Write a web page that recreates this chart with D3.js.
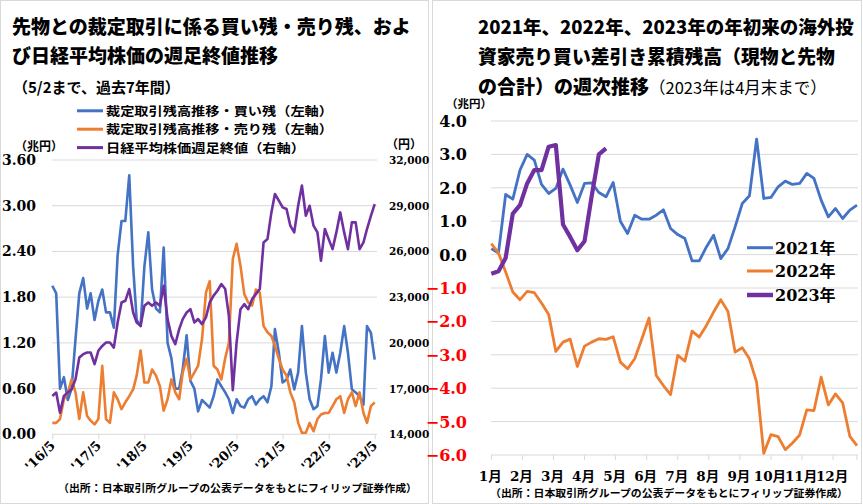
<!DOCTYPE html>
<html>
<head>
<meta charset="utf-8">
<script src="https://cdn.jsdelivr.net/npm/d3@7"></script>
<style>
  body { margin: 0; background: #fff; }
  svg { display: block; }
  text { font-family: "Noto Sans CJK JP", sans-serif; }
</style>
</head>
<body>
<script>
// 左: 月次（2016/5〜2023/5）
var months = [
  "2016-05","2016-06","2016-07","2016-08","2016-09","2016-10","2016-11","2016-12","2017-01","2017-02","2017-03","2017-04",
  "2017-05","2017-06","2017-07","2017-08","2017-09","2017-10","2017-11","2017-12","2018-01","2018-02","2018-03","2018-04",
  "2018-05","2018-06","2018-07","2018-08","2018-09","2018-10","2018-11","2018-12","2019-01","2019-02","2019-03","2019-04",
  "2019-05","2019-06","2019-07","2019-08","2019-09","2019-10","2019-11","2019-12","2020-01","2020-02","2020-03","2020-04",
  "2020-05","2020-06","2020-07","2020-08","2020-09","2020-10","2020-11","2020-12","2021-01","2021-02","2021-03","2021-04",
  "2021-05","2021-06","2021-07","2021-08","2021-09","2021-10","2021-11","2021-12","2022-01","2022-02","2022-03","2022-04",
  "2022-05","2022-06","2022-07","2022-08","2022-09","2022-10","2022-11","2022-12","2023-01","2023-02","2023-03","2023-04",
  "2023-05"
];
// 裁定取引残高・買い残（兆円）
var buyBalance = [
  1.95, 1.85, 0.60, 0.75, 0.45, 0.60, 1.25, 1.85, 2.05, 1.65, 1.85, 1.50,
  1.75, 1.90, 1.60, 1.60, 1.40, 2.35, 2.80, 2.80, 3.40, 2.20, 1.50, 1.42,
  2.20, 2.65, 1.90, 1.65, 1.60, 2.45, 1.20, 1.00, 0.60, 0.60, 0.85, 1.30,
  0.70, 0.60, 0.30, 0.45, 0.40, 0.35, 0.50, 0.72, 0.63, 0.55, 0.46, 0.28,
  0.46, 0.37, 0.35, 0.46, 0.50, 0.39, 0.46, 0.50, 0.42, 0.63, 1.38, 1.07,
  0.68, 0.72, 0.85, 0.59, 0.81, 1.42, 0.81, 0.46, 0.33, 0.37, 0.72, 1.29,
  0.81, 1.07, 0.81, 1.07, 1.42, 1.07, 0.59, 0.55, 0.50, 0.39, 1.42, 1.33,
  0.98
];
// 裁定取引残高・売り残（兆円）
var sellBalance = [
  0.15, 0.15, 0.20, 0.46, 0.55, 0.72, 0.55, 0.20, 0.55, 0.24, 0.18, 0.13,
  0.20, 0.90, 0.20, 0.15, 0.55, 0.46, 0.33, 0.42, 0.50, 0.59, 0.77, 1.10,
  0.68, 0.68, 0.85, 0.77, 0.63, 0.31, 0.46, 0.72, 0.55, 0.46, 0.81, 0.99,
  0.72, 0.81, 0.90, 1.25, 1.86, 2.01, 0.90, 0.85, 0.72, 1.00, 1.20, 2.30,
  2.50, 2.21, 1.84, 1.73, 1.69, 1.90, 1.86, 1.42, 1.34, 1.29, 1.16, 0.99,
  0.85, 0.77, 0.55, 0.42, 0.15, 0.02, 0.02, 0.15, 0.04, 0.20, 0.26, 0.28,
  0.28, 0.37, 0.46, 0.50, 0.28, 0.46, 0.55, 0.37, 0.55, 0.28, 0.15, 0.37,
  0.42
];
// 日経平均株価 週足終値（円）
var nikkei = [
  16520, 16740, 15420, 16520, 16740, 16960, 17610, 19040, 19260, 19370, 19370, 18600,
  19480, 19800, 20020, 20020, 19690, 21340, 22650, 22760, 23530, 21990, 21340, 21120,
  22430, 22650, 22430, 22650, 22430, 23750, 21560, 20460, 19910, 20900, 21560, 21990,
  22210, 21340, 21560, 21230, 21670, 22650, 23100, 23420, 23860, 23530, 21770, 16900,
  20020, 22210, 22540, 22210, 22870, 23200, 23530, 26590, 26810, 28560, 29770, 29330,
  28890, 28780, 27690, 27250, 29000, 30320, 28340, 29000, 27690, 27250, 25390, 27470,
  26810, 26150, 27250, 28560, 27250, 26150, 27910, 27910, 26150, 26590, 27470, 28340,
  29110
];
var leftTickDates = ["2016-05","2017-05","2018-05","2019-05","2020-05","2021-05","2022-05","2023-05"];
var leftTicks = [0, 0.6, 1.2, 1.8, 2.4, 3.0, 3.6];
var rightTicks = [14000, 17000, 20000, 23000, 26000, 29000, 32000];

// 右: 週次（海外投資家 売り買い差引き累積, 兆円）
var y2021 = [0.18, 0.05, 1.80, 1.66, 2.53, 3.00, 2.83, 2.10, 1.83, 1.98, 2.56, 2.08, 1.56,
  2.13, 2.15, 1.86, 1.73, 2.16, 1.00, 0.63, 1.18, 1.06, 1.06, 1.18, 1.34, 0.78,
  0.60, 0.48, -0.19, -0.19, 0.23, 0.58, -0.12, 0.18, 0.83, 1.53, 1.76, 3.46, 1.68,
  1.71, 2.03, 2.20, 2.10, 2.13, 2.43, 2.28, 1.63, 1.13, 1.38, 1.08, 1.33, 1.48];
var y2022 = [0.33, 0.05, -0.52, -1.12, -1.35, -1.10, -1.14, -1.45, -1.79, -2.90, -2.62, -2.53, -3.35,
  -2.74, -2.62, -2.52, -2.54, -2.46, -3.22, -3.42, -3.12, -2.52, -1.90, -3.62, -3.92, -4.19,
  -3.02, -3.19, -2.29, -2.47, -2.12, -1.72, -1.35, -1.70, -2.92, -2.79, -3.12, -3.82, -5.95,
  -5.39, -5.45, -5.84, -5.64, -5.40, -4.65, -4.67, -3.67, -4.50, -4.17, -4.44, -5.44, -5.72];
var y2023 = [-0.57, -0.50, -0.10, 1.23, 1.48, 2.13, 2.53, 2.53, 3.23, 3.28, 0.90, 0.53, 0.13,
  0.40, 1.75, 3.00, 3.18];
var monthLabels = ["1月","2月","3月","4月","5月","6月","7月","8月","9月","10月","11月","12月"];
var weekTicks = [4, 3, 2, 1, 0, -1, -2, -3, -4, -5, -6];

var BLUE = "#4472C4", ORANGE = "#ED7D31", PURPLE = "#7030A0", GRID = "#d9d9d9";
var NUM = "'DejaVu Serif', 'Noto Sans CJK JP', serif";

var svg = d3.select("body").append("svg").attr("width", 863).attr("height", 504);

// 枠
svg.append("rect").attr("x", 0.5).attr("y", 0.5).attr("width", 428).attr("height", 503)
  .attr("fill", "none").attr("stroke", GRID);
svg.append("rect").attr("x", 432.5).attr("y", 0.5).attr("width", 429).attr("height", 503)
  .attr("fill", "none").attr("stroke", GRID);

/* ---------- 左のチャート ---------- */
var parse = d3.timeParse("%Y-%m");
var xL = d3.scaleTime().domain([parse("2016-05"), parse("2023-05")]).range([52.3, 374.7]);
var yL = d3.scaleLinear().domain([0, 3.6]).range([434.3, 160]);
var yR = d3.scaleLinear().domain([14000, 32000]).range([434.3, 160]);

var left = svg.append("g");

// タイトル
left.append("text").attr("x", 12).attr("y", 34).attr("font-size", 19).attr("font-weight", 900)
  .text("先物との裁定取引に係る買い残・売り残、およ");
left.append("text").attr("x", 12).attr("y", 63).attr("font-size", 19).attr("font-weight", 900)
  .text("び日経平均株価の週足終値推移");
left.append("text").attr("x", 13).attr("y", 93).attr("font-size", 15).attr("font-weight", "bold")
  .text("（5/2まで、過去7年間）");

// グリッド
left.selectAll("line.grid").data(leftTicks).enter().append("line")
  .attr("x1", 52).attr("x2", 377)
  .attr("y1", function(d) { return yL(d); }).attr("y2", function(d) { return yL(d); })
  .attr("stroke", GRID).attr("stroke-width", 1);

// 左軸
left.selectAll("text.yl").data(leftTicks).enter().append("text")
  .attr("x", 36).attr("y", function(d) { return yL(d) + 5; })
  .attr("text-anchor", "end").attr("font-size", 14).attr("font-weight", "bold")
  .style("font-family", NUM)
  .text(function(d) { return d3.format(".2f")(d); });
// 右軸
left.selectAll("text.yr").data(rightTicks).enter().append("text")
  .attr("x", 389).attr("y", function(d) { return yR(d) + 4; })
  .attr("font-size", 10.5).attr("font-weight", "bold")
  .style("font-family", NUM)
  .text(function(d) { return d3.format(",")(d); });

left.append("text").attr("x", 15).attr("y", 151).attr("font-size", 12).attr("font-weight", "bold").text("（兆円）");
left.append("text").attr("x", 386).attr("y", 149).attr("font-size", 12).attr("font-weight", "bold").text("（円）");

// x軸
var xAxisL = d3.axisBottom(xL)
  .tickValues(leftTickDates.map(parse))
  .tickSize(5)
  .tickFormat(d3.timeFormat("'%y/%-m"));
var gx = left.append("g").attr("transform", "translate(0,434.3)").call(xAxisL);
gx.select(".domain").remove();
gx.selectAll(".tick line").attr("stroke", GRID);
gx.selectAll(".tick text")
  .attr("y", 0).attr("dy", 0)
  .attr("transform", "translate(3,12) rotate(-45)")
  .attr("text-anchor", "end")
  .attr("font-size", 13).attr("font-weight", "bold")
  .style("font-family", NUM).attr("fill", "#000");

// 線
var lineL = d3.line()
  .x(function(d, i) { return xL(parse(months[i])); })
  .y(function(d) { return yL(d); });
var lineN = d3.line()
  .x(function(d, i) { return xL(parse(months[i])); })
  .y(function(d) { return yR(d); });

left.append("path").datum(buyBalance).attr("d", lineL)
  .attr("fill", "none").attr("stroke", BLUE).attr("stroke-width", 2.6).attr("stroke-linejoin", "round");
left.append("path").datum(sellBalance).attr("d", lineL)
  .attr("fill", "none").attr("stroke", ORANGE).attr("stroke-width", 2.6).attr("stroke-linejoin", "round");
left.append("path").datum(nikkei).attr("d", lineN)
  .attr("fill", "none").attr("stroke", PURPLE).attr("stroke-width", 2.6).attr("stroke-linejoin", "round");

// 凡例
var legL = [
  { name: "裁定取引残高推移・買い残（左軸）", color: BLUE, len: 227 },
  { name: "裁定取引残高推移・売り残（左軸）", color: ORANGE, len: 227 },
  { name: "日経平均株価週足終値（右軸）", color: PURPLE, len: 199 }
];
var lg = left.selectAll("g.leg").data(legL).enter().append("g")
  .attr("transform", function(d, i) { return "translate(0," + [110.8, 129.2, 147.6][i] + ")"; });
lg.append("line").attr("x1", 77).attr("x2", 103).attr("stroke", function(d) { return d.color; }).attr("stroke-width", 3);
lg.append("text").attr("x", 106).attr("y", 5).attr("font-size", 12.5).attr("font-weight", "bold")
  .attr("textLength", function(d) { return d.len; }).attr("lengthAdjust", "spacingAndGlyphs")
  .text(function(d) { return d.name; });

left.append("text").attr("x", 58).attr("y", 492).attr("font-size", 10.6).attr("font-weight", "bold")
  .attr("textLength", 359).attr("lengthAdjust", "spacingAndGlyphs")
  .text("（出所：日本取引所グループの公表データをもとにフィリップ証券作成）");

/* ---------- 右のチャート ---------- */
var xW = d3.scaleLinear().domain([0, 51]).range([491.3, 857]);
var yW = d3.scaleLinear().domain([-6, 4]).range([455, 121]);
var right = svg.append("g");

right.append("text").attr("x", 478).attr("y", 34).attr("font-size", 18.5).attr("font-weight", 900)
  .text("2021年、2022年、2023年の年初来の海外投");
right.append("text").attr("x", 478).attr("y", 64).attr("font-size", 18.8).attr("font-weight", 900)
  .text("資家売り買い差引き累積残高（現物と先物");
var t3 = right.append("text").attr("x", 478).attr("y", 94).attr("font-size", 19);
t3.append("tspan").attr("font-weight", 900).text("の合計）の週次推移");
t3.append("tspan").attr("font-size", 16.5).attr("font-weight", "normal").text("（2023年は4月末まで）");

right.append("text").attr("x", 446).attr("y", 108).attr("font-size", 11.5).attr("font-weight", "bold").text("（兆円）");

right.selectAll("line.grid").data(weekTicks).enter().append("line")
  .attr("x1", 491).attr("x2", 858)
  .attr("y1", function(d) { return yW(d); }).attr("y2", function(d) { return yW(d); })
  .attr("stroke", GRID).attr("stroke-width", 1);

right.selectAll("text.yw").data(weekTicks).enter().append("text")
  .attr("x", 467).attr("y", function(d) { return yW(d) + 6; })
  .attr("text-anchor", "end").attr("font-size", 16).attr("font-weight", "bold")
  .style("font-family", NUM)
  .attr("fill", function(d) { return d < 0 ? "#FF0000" : "#000"; })
  .text(function(d) { return d3.format(".1f")(d); });

// 月の目盛り
var monthPos = monthLabels.map(function(m, i) { return i * 52 / 12; });
right.selectAll("line.mt").data(monthPos.concat([51])).enter().append("line")
  .attr("x1", function(d) { return xW(d); }).attr("x2", function(d) { return xW(d); })
  .attr("y1", 455).attr("y2", 460).attr("stroke", GRID);
right.selectAll("text.mt").data(monthLabels).enter().append("text")
  .attr("x", function(d, i) { return xW(monthPos[i]) - 1; }).attr("y", 481)
  .attr("text-anchor", "middle").attr("font-size", 13.5).attr("font-weight", "bold")
  .style("font-family", NUM)
  .text(function(d) { return d; });

var lineW = d3.line()
  .x(function(d, i) { return xW(i); })
  .y(function(d) { return yW(d); });

right.append("path").datum(y2021).attr("d", lineW)
  .attr("fill", "none").attr("stroke", BLUE).attr("stroke-width", 2.8).attr("stroke-linejoin", "round");
right.append("path").datum(y2022).attr("d", lineW)
  .attr("fill", "none").attr("stroke", ORANGE).attr("stroke-width", 2.8).attr("stroke-linejoin", "round");
right.append("path").datum(y2023).attr("d", lineW)
  .attr("fill", "none").attr("stroke", PURPLE).attr("stroke-width", 4.2).attr("stroke-linejoin", "round");

var legR = [
  { name: "2021年", color: BLUE, w: 3 },
  { name: "2022年", color: ORANGE, w: 3 },
  { name: "2023年", color: PURPLE, w: 4.5 }
];
var lr = right.selectAll("g.leg").data(legR).enter().append("g")
  .attr("transform", function(d, i) { return "translate(0," + [247.7, 271, 295][i] + ")"; });
lr.append("line").attr("x1", 747).attr("x2", 773)
  .attr("stroke", function(d) { return d.color; }).attr("stroke-width", function(d) { return d.w; });
lr.append("text").attr("x", 775).attr("y", 6).attr("font-size", 16).attr("font-weight", "bold")
  .style("font-family", NUM)
  .text(function(d) { return d.name; });

right.append("text").attr("x", 490).attr("y", 497).attr("font-size", 10.6).attr("font-weight", "bold")
  .attr("textLength", 358).attr("lengthAdjust", "spacingAndGlyphs")
  .text("（出所：日本取引所グループの公表データをもとにフィリップ証券作成）");
</script>
</body>
</html>
